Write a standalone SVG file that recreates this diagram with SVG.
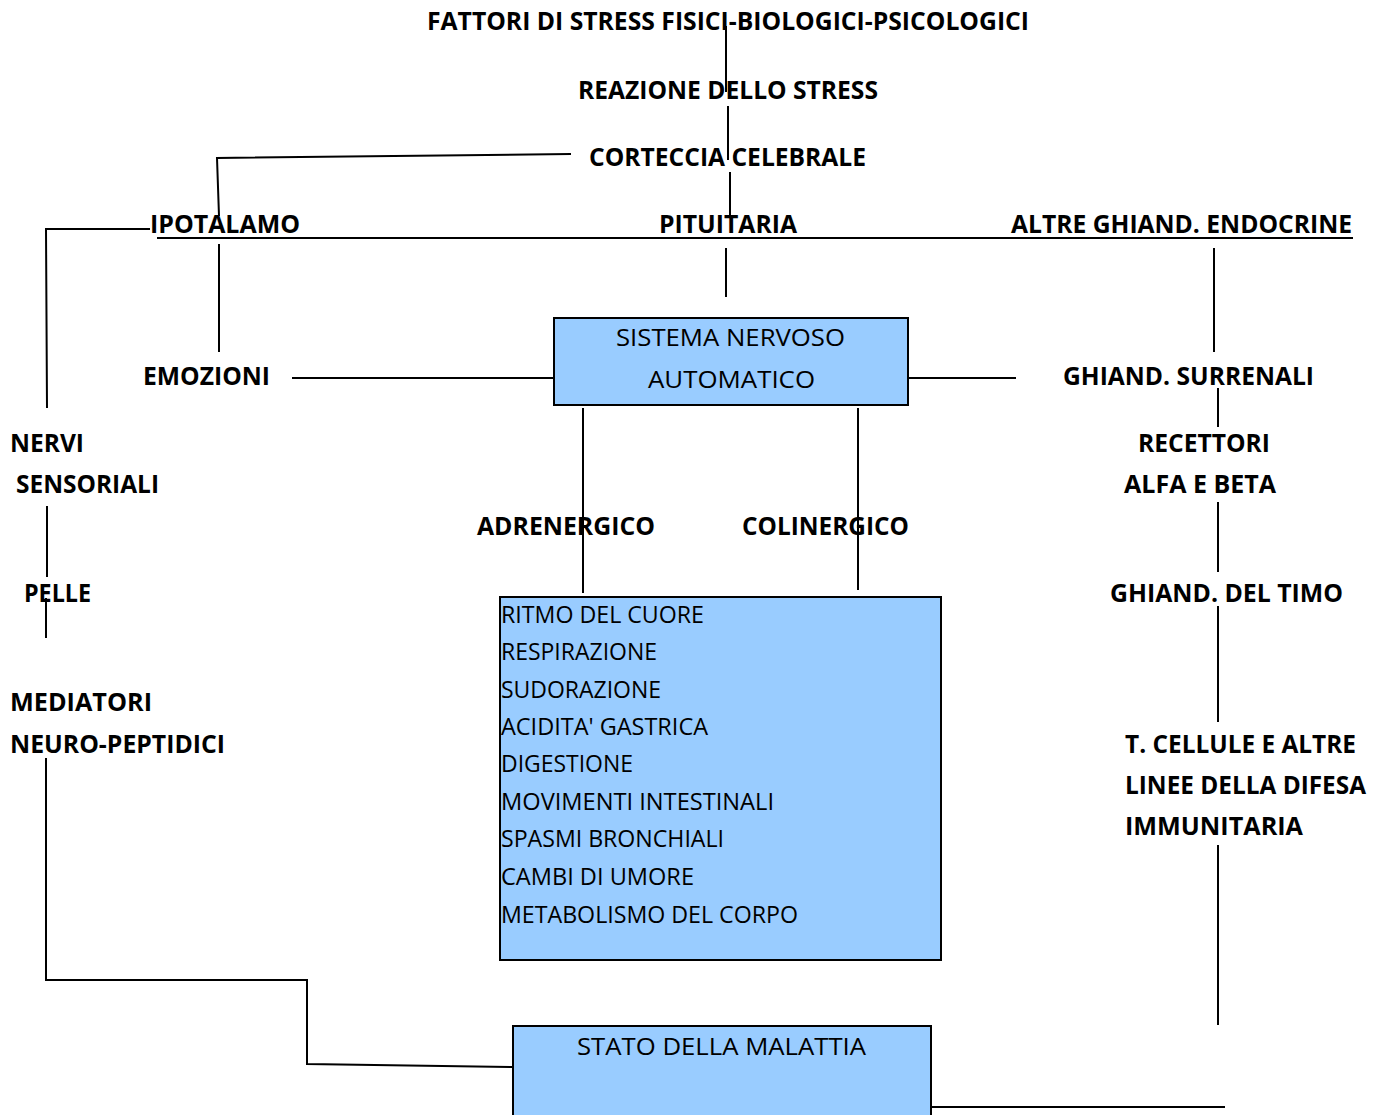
<svg xmlns="http://www.w3.org/2000/svg" width="1379" height="1115" viewBox="0 0 1379 1115">
<style>
text{font-family:"Open Sans","Liberation Sans",sans-serif;font-size:24px;fill:#000}
.b{font-weight:bold;font-size:25px}
.box{fill:#99CCFF;stroke:#000;stroke-width:2}
.ln{stroke:#000;stroke-width:2;fill:none}
</style>
<rect width="1379" height="1115" fill="#fff"/>
<g id="connectors">
<path class="ln" d="M726 26 V92"/>
<path class="ln" d="M728 106 V160"/>
<path class="ln" d="M730 172 V218"/>
<path class="ln" d="M571 154 L217 158 L219 216"/>
<path class="ln" d="M150 229 H46 L47 408"/>
<path class="ln" d="M157 238 H1353"/>
<path class="ln" d="M219 244 V352"/>
<path class="ln" d="M292 378 H554"/>
<path class="ln" d="M908 378 H1016"/>
<path class="ln" d="M726 248 V297"/>
<path class="ln" d="M1214 248 V352"/>
<path class="ln" d="M1218 388 V427"/>
<path class="ln" d="M1218 502 V572"/>
<path class="ln" d="M1218 606 V722"/>
<path class="ln" d="M1218 845 V1025"/>
<path class="ln" d="M931 1107 H1225"/>
<path class="ln" d="M47 506 V577"/>
<path class="ln" d="M46 598 V638"/>
<path class="ln" d="M46 758 V980 H307 V1064 L513 1067"/>
<path class="ln" d="M583 408 V593"/>
<path class="ln" d="M858 408 V590"/>
</g>
<g id="fattori"><text class="b" x="427" y="30" textLength="602" lengthAdjust="spacingAndGlyphs">FATTORI DI STRESS FISICI-BIOLOGICI-PSICOLOGICI</text></g>
<g id="reazione"><text class="b" x="578" y="99" textLength="300" lengthAdjust="spacingAndGlyphs">REAZIONE DELLO STRESS</text></g>
<g id="corteccia"><text class="b" x="589" y="166" textLength="277" lengthAdjust="spacingAndGlyphs">CORTECCIA CELEBRALE</text></g>
<g id="ipotalamo"><text class="b" x="150" y="233" textLength="150" lengthAdjust="spacingAndGlyphs">IPOTALAMO</text></g>
<g id="pituitaria"><text class="b" x="659" y="233" textLength="138" lengthAdjust="spacingAndGlyphs">PITUITARIA</text></g>
<g id="altre"><text class="b" x="1011" y="233" textLength="341" lengthAdjust="spacingAndGlyphs">ALTRE GHIAND. ENDOCRINE</text></g>
<g id="emozioni"><text class="b" x="143" y="385" textLength="127" lengthAdjust="spacingAndGlyphs">EMOZIONI</text></g>
<g id="surrenali"><text class="b" x="1063" y="385" textLength="251" lengthAdjust="spacingAndGlyphs">GHIAND. SURRENALI</text></g>
<g id="nervi">
<text class="b" x="10" y="452" textLength="74" lengthAdjust="spacingAndGlyphs">NERVI</text>
<text class="b" x="16" y="493" textLength="143" lengthAdjust="spacingAndGlyphs">SENSORIALI</text>
</g>
<g id="recettori">
<text class="b" x="1138" y="452" textLength="132" lengthAdjust="spacingAndGlyphs">RECETTORI</text>
<text class="b" x="1124" y="493" textLength="152" lengthAdjust="spacingAndGlyphs">ALFA E BETA</text>
</g>
<g id="adrenergico"><text class="b" x="477" y="535" textLength="178" lengthAdjust="spacingAndGlyphs">ADRENERGICO</text></g>
<g id="colinergico"><text class="b" x="742" y="535" textLength="167" lengthAdjust="spacingAndGlyphs">COLINERGICO</text></g>
<g id="pelle"><text class="b" x="24" y="602" textLength="67" lengthAdjust="spacingAndGlyphs">PELLE</text></g>
<g id="timo"><text class="b" x="1110" y="602" textLength="233" lengthAdjust="spacingAndGlyphs">GHIAND. DEL TIMO</text></g>
<g id="mediatori">
<text class="b" x="10" y="711" textLength="142" lengthAdjust="spacingAndGlyphs">MEDIATORI</text>
<text class="b" x="10" y="753" textLength="215" lengthAdjust="spacingAndGlyphs">NEURO-PEPTIDICI</text>
</g>
<g id="tcellule">
<text class="b" x="1125" y="753" textLength="231" lengthAdjust="spacingAndGlyphs">T. CELLULE E ALTRE</text>
<text class="b" x="1125" y="794" textLength="241" lengthAdjust="spacingAndGlyphs">LINEE DELLA DIFESA</text>
<text class="b" x="1125" y="835" textLength="178" lengthAdjust="spacingAndGlyphs">IMMUNITARIA</text>
</g>
<g id="sna">
<rect class="box" x="554" y="318" width="354" height="87"/>
<text x="616" y="346" textLength="229" lengthAdjust="spacingAndGlyphs">SISTEMA NERVOSO</text>
<text x="648" y="388" textLength="167" lengthAdjust="spacingAndGlyphs">AUTOMATICO</text>
</g>
<g id="funzioni">
<rect class="box" x="500" y="597" width="441" height="363"/>
<text x="501" y="623" textLength="203" lengthAdjust="spacingAndGlyphs">RITMO DEL CUORE</text>
<text x="501" y="660" textLength="156" lengthAdjust="spacingAndGlyphs">RESPIRAZIONE</text>
<text x="501" y="698" textLength="160" lengthAdjust="spacingAndGlyphs">SUDORAZIONE</text>
<text x="501" y="735" textLength="207" lengthAdjust="spacingAndGlyphs">ACIDITA' GASTRICA</text>
<text x="501" y="772" textLength="132" lengthAdjust="spacingAndGlyphs">DIGESTIONE</text>
<text x="501" y="810" textLength="273" lengthAdjust="spacingAndGlyphs">MOVIMENTI INTESTINALI</text>
<text x="501" y="847" textLength="223" lengthAdjust="spacingAndGlyphs">SPASMI BRONCHIALI</text>
<text x="501" y="885" textLength="193" lengthAdjust="spacingAndGlyphs">CAMBI DI UMORE</text>
<text x="501" y="923" textLength="297" lengthAdjust="spacingAndGlyphs">METABOLISMO DEL CORPO</text>
</g>
<g id="stato">
<rect class="box" x="513" y="1026" width="418" height="100"/>
<text x="577" y="1055" textLength="289" lengthAdjust="spacingAndGlyphs">STATO DELLA MALATTIA</text>
</g>
</svg>
